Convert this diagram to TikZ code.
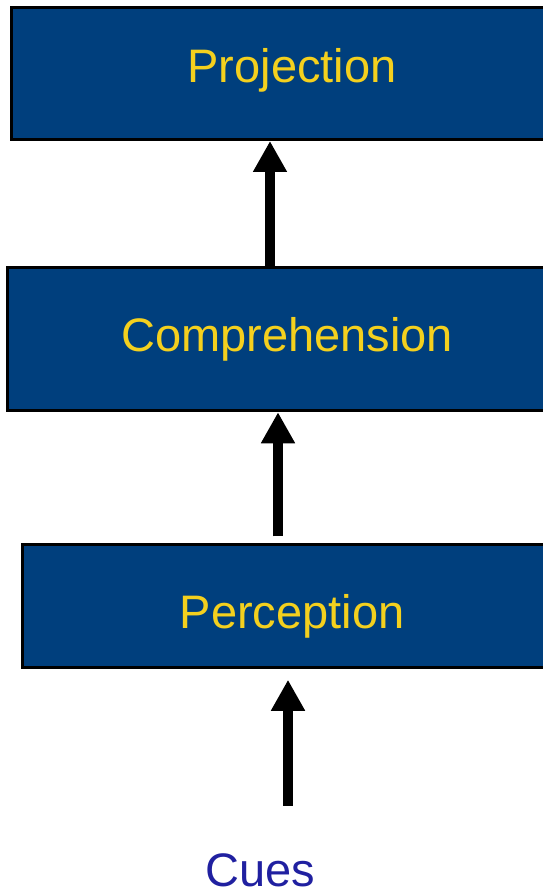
\documentclass[tikz,border=0pt]{standalone}
\usepackage{fontspec}
\setmainfont{Liberation Sans}
\usetikzlibrary{calc,arrows.meta}
\usetikzlibrary{positioning}
\definecolor{boxblue}{RGB}{0,63,125}
\definecolor{textyellow}{RGB}{244,208,30}
\definecolor{cueblue}{RGB}{32,32,160}

\begin{document}
\begin{tikzpicture}[x=1pt,y=-1pt,
  level/.style={draw=black, line width=3pt, fill=boxblue, text=textyellow, inner sep=0pt,
    font=\fontsize{47}{50}\selectfont},
  upar/.style={line width=10pt, -{Triangle[width=32pt,length=31pt]}}]
\useasboundingbox (0,0) rectangle (542,896);
\node[level, minimum width=561pt, minimum height=132pt, text height=34pt, text depth=16pt](proj) at (292,73.5){Projection};
\node[level, minimum width=559pt, minimum height=143.5pt](comp) at (287,339){Comprehension};
\node[level, minimum width=539pt, minimum height=122.5pt, text height=54pt, text depth=10pt](perc) at (292,606){Perception};
\node[text=cueblue, inner sep=0pt, anchor=base, font=\fontsize{47}{50}\selectfont](cues) at (260,886){Cues};
\draw[upar] ([xshift=-17pt]comp.north) -- ([xshift=-22pt]proj.south);
\draw[upar] ([xshift=-14pt,yshift=7pt]perc.north) -- ([xshift=-9pt]comp.south);
\draw[upar] ([xshift=28pt,yshift=47pt]cues.north) -- ([xshift=-4pt,yshift=-11pt]perc.south);
\end{tikzpicture}
\end{document}
